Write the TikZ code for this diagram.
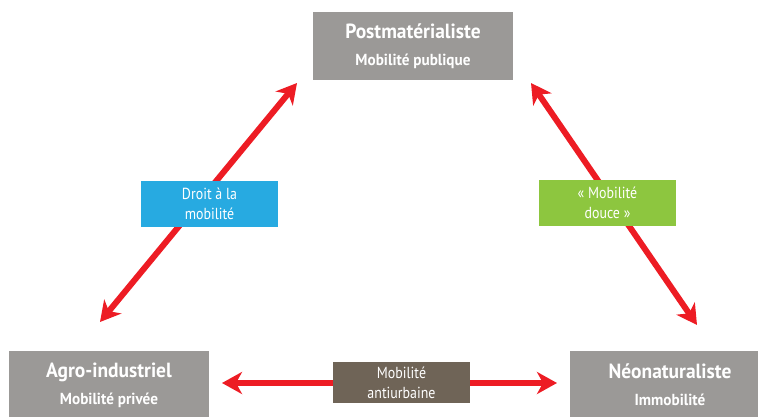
\documentclass[tikz,border=0pt]{standalone}
\usepackage{fontspec}
\setmainfont[FakeStretch=0.95]{PT Sans}
\newfontfamily\narrowfont[FakeStretch=0.87]{PT Sans}
\usepackage{tikz}
\usetikzlibrary{arrows.meta}
\definecolor{polegray}{RGB}{155,153,151}
\definecolor{linkred}{RGB}{237,28,36}
\definecolor{rightblue}{RGB}{39,170,225}
\definecolor{softgreen}{RGB}{141,198,63}
\definecolor{ruralbrown}{RGB}{111,100,87}

\begin{document}
\begin{tikzpicture}[x=1pt, y=1pt,
  every node/.style = {text=white, align=center, inner sep=0pt},
  pole/.style = {fill=polegray, minimum width=200pt, minimum height=68pt,
    font=\bfseries\fontsize{16}{27}\selectfont},
  tag/.style = {minimum width=137pt, minimum height=46pt,
    font=\narrowfont\fontsize{16}{20}\selectfont},
  link/.style = {draw=linkred, line width=6pt,
    {Stealth[length=20pt, width=22pt, inset=6pt]}-{Stealth[length=20pt, width=22pt, inset=6pt]}}
]
\useasboundingbox (0,0) rectangle (758,416);

% the three poles
\node[pole] (post) at (413,370)
  {{\fontsize{20.5}{27}\selectfont Postmatérialiste}\\Mobilité publique};
\node[pole] (agro) at (109,31)
  {{\fontsize{20.5}{27}\selectfont Agro-industriel}\\Mobilité privée};
\node[pole] (neo) at (670,31)
  {{\fontsize{20.5}{27}\selectfont Néonaturaliste}\\Immobilité};

% arrow ends
\coordinate (agroup) at (100,94);
\coordinate (postleft) at (297,333);
\coordinate (postright) at (531,333);
\coordinate (neoup) at (697,91);
\coordinate (agroright) at (222,33);
\coordinate (neoleft) at (557,33);

\draw[link] (agroup) -- (postleft);
\draw[link] (postright) -- (neoup);
\draw[link] (agroright) -- (neoleft);

% labels on the arrows
\node[tag, fill=rightblue] (right) at (209.5,212) {Droit à la\\mobilité};
\node[tag, fill=softgreen] (soft) at (607.5,213) {« Mobilité\\douce »};
\node[tag, fill=ruralbrown, minimum height=41pt] (rural) at (401.5,33.5)
  {Mobilité\\antiurbaine};
\end{tikzpicture}
\end{document}
